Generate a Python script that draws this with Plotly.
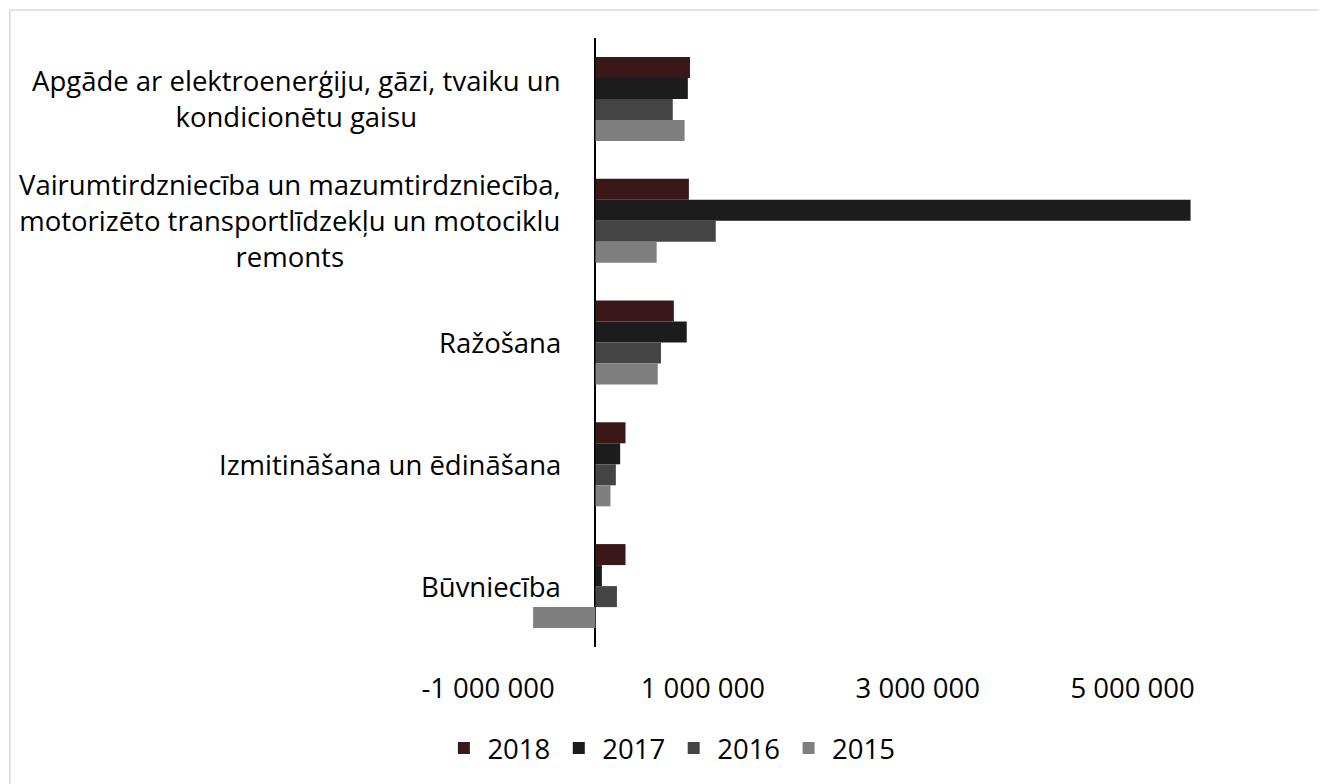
import plotly.graph_objects as go

categories = [
    "Apgāde ar elektroenerģiju, gāzi, tvaiku un<br>kondicionētu gaisu",
    "Vairumtirdzniecība un mazumtirdzniecība,<br>motorizēto transportlīdzekļu un motociklu<br>remonts",
    "Ražošana",
    "Izmitināšana un ēdināšana",
    "Būvniecība",
]
cat_ids = ["c0", "c1", "c2", "c3", "c4"]
years = ["2018", "2017", "2016", "2015"]
values = {
    "2018": [880000, 870000, 730000, 280000, 280000],
    "2017": [860000, 5540000, 850000, 230000, 60000],
    "2016": [720000, 1120000, 610000, 190000, 200000],
    "2015": [830000, 570000, 580000, 140000, -580000],
}
colors = {"2018": "#3a1719", "2017": "#1c1c1c", "2016": "#444444", "2015": "#7f7f7f"}
tick_vals = [-1000000, 1000000, 3000000, 5000000]
tick_text = ["-1 000 000", "1 000 000", "3 000 000", "5 000 000"]

OFF = 8  # page body offset
W, H = 1327 - OFF, 784 - OFF
L = 487.5 - OFF
T = 38 - OFF
R = W - (1240 - OFF)
B = H - (647 - OFF)
FONT = "Open Sans"
FS = 27.5

fig = go.Figure()
for y in years:
    fig.add_trace(go.Bar(
        y=cat_ids, x=values[y], name=y, orientation="h",
        marker=dict(color=colors[y], line=dict(width=0)),
    ))

pw = W - L - R
ph = H - T - B
annotations = []
for i, c in enumerate(categories):
    annotations.append(dict(
        xref="paper", yref="y", x=(563 - OFF - L) / pw, y=cat_ids[i],
        xanchor="right", yanchor="middle", align="center",
        text=c, showarrow=False,
        font=dict(family=FONT, size=FS, color="#000000"),
    ))

fig.update_layout(
    width=W, height=H,
    margin=dict(l=L, r=R, t=T, b=B, pad=0),
    paper_bgcolor="white", plot_bgcolor="white",
    barmode="group", bargap=0.31, bargroupgap=0,
    font=dict(family=FONT, size=FS, color="#000000"),
    xaxis=dict(
        range=[-1000000, 6000000], tickvals=tick_vals, ticktext=tick_text,
        showgrid=False, zeroline=True, zerolinecolor="#000000", zerolinewidth=2,
        showline=False, ticks="", tickfont=dict(family=FONT, size=FS),
        ticklabelstandoff=22,
    ),
    yaxis=dict(
        autorange="reversed", showticklabels=False, showgrid=False,
        showline=False, ticks="",
    ),
    legend=dict(
        orientation="h", x=(670 - OFF - L) / pw,
        xanchor="center", y=-(748 - 647) / ph, yanchor="middle",
        font=dict(family=FONT, size=FS), itemwidth=37,
    ),
    annotations=annotations,
    shapes=[dict(
        type="rect", xref="paper", yref="paper",
        x0=(9 - OFF - L) / pw, x1=(W + 20 - L) / pw,
        y0=-(H + 20 - (H - B)) / ph, y1=1 + (T - (10 - OFF)) / ph,
        line=dict(color="#d9d9d9", width=1.5), fillcolor="rgba(0,0,0,0)",
        layer="below",
    )],
    showlegend=True,
)

fig.write_html("out.html")
